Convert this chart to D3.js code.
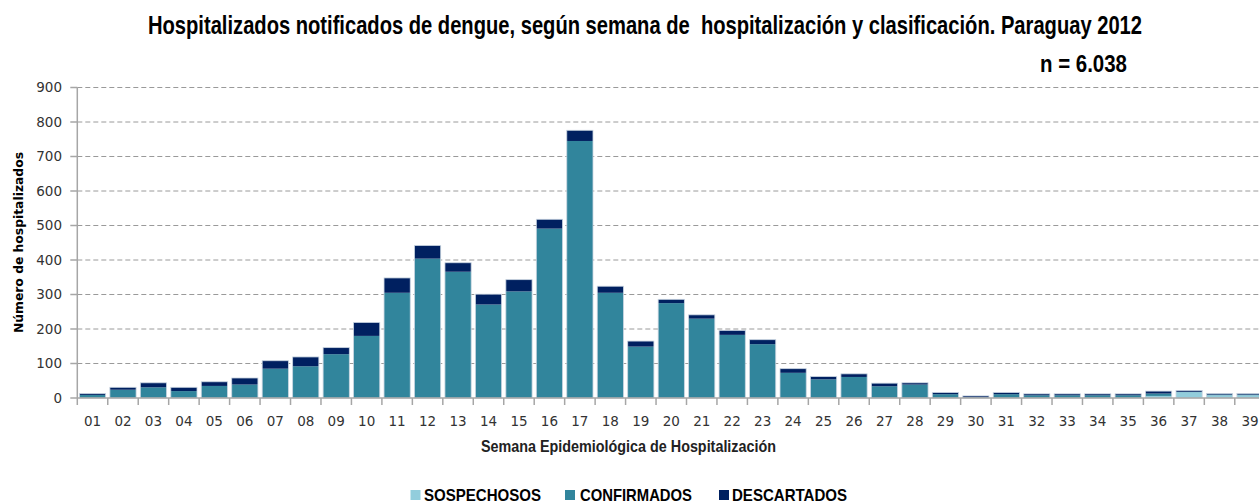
<!DOCTYPE html>
<html>
<head>
<meta charset="utf-8">
<script src="https://cdn.jsdelivr.net/npm/d3@7"></script>
<style>
  html, body { margin: 0; padding: 0; background: #fff; }
  svg { display: block; }
</style>
</head>
<body>
<svg id="chart" width="1259" height="504"></svg>
<script>
const weeks = ["01","02","03","04","05","06","07","08","09","10","11","12","13","14","15","16","17","18","19","20",
               "21","22","23","24","25","26","27","28","29","30","31","32","33","34","35","36","37","38","39"];
const sospechosos = [0,0,0,0,0,0,0,0,0,0,0,0,0,0,0,0,0,0,0,0,
                     0,0,0,0,0,0,0,0,0,0,0,0,0,0,0,6,17,8,8];
const confirmados = [9,24,31,20,35,39,85,92,127,180,305,404,366,271,309,491,745,305,149,275,
                     230,183,156,73,54,61,34,39,11,2,11,8,8,8,8,7,1,2,2];
const descartados = [4,7,13,11,12,19,23,27,19,39,43,38,26,30,34,27,31,19,16,11,
                     11,13,13,12,8,9,9,5,5,4,5,4,4,4,4,7,4,3,3];
const yTicks = [0,100,200,300,400,500,600,700,800,900];
const seriesNames = ["SOSPECHOSOS","CONFIRMADOS","DESCARTADOS"];
const seriesColors = ["#92cddc","#31859c","#002060"];

const titleText = "Hospitalizados notificados de dengue, según semana de  hospitalización y clasificación. Paraguay 2012";
const nText = "n = 6.038";
const xTitle = "Semana Epidemiológica de Hospitalización";
const yTitle = "Número de hospitalizados";

(function () {
const svg = d3.select("#chart");
const pLeft = 77.3, pBottom = 398, pTop = 87.5, step = 30.46;
const pRight = pLeft + weeks.length * step;

const x = d3.scaleBand().domain(weeks).range([pLeft, pRight]).paddingInner(0.14).paddingOuter(0.07);
const xb = d3.scaleLinear().domain([0, weeks.length]).range([pLeft, pRight]);
const y = d3.scaleLinear().domain([0, 900]).range([pBottom, pTop]);

const condensed = "'Liberation Sans Narrow','Arial Narrow','Liberation Sans',Arial,sans-serif";

// title
svg.append("text").attr("transform", "translate(148,34) scale(1,1.15)")
  .attr("textLength", 994).attr("lengthAdjust", "spacingAndGlyphs")
  .style("font-family", condensed).style("font-weight", "bold").style("font-size", "22px")
  .style("fill", "#000").style("white-space", "pre").text(titleText);
svg.append("text").attr("transform", "translate(1040,72) scale(1,1.1)")
  .attr("textLength", 87).attr("lengthAdjust", "spacingAndGlyphs")
  .style("font-family", condensed).style("font-weight", "bold").style("font-size", "22px")
  .style("fill", "#000").text(nText);

// gridlines
svg.append("g").selectAll("line").data(yTicks.filter(d => d > 0)).join("line")
  .attr("x1", pLeft).attr("x2", 1259)
  .attr("y1", d => y(d)).attr("y2", d => y(d))
  .attr("stroke", "#9a9a9a").attr("stroke-width", 1).attr("stroke-dasharray", "5,3");

// stacked data
const rows = weeks.map((w, i) => ({week: w, SOSPECHOSOS: sospechosos[i], CONFIRMADOS: confirmados[i], DESCARTADOS: descartados[i]}));
const stack = d3.stack().keys(seriesNames)(rows);

const g = svg.append("g");
stack.forEach((layer, li) => {
  g.append("g").selectAll("rect").data(layer.filter(d => d[1] > d[0])).join("rect")
    .attr("x", d => x(d.data.week))
    .attr("width", x.bandwidth())
    .attr("y", d => y(d[1]))
    .attr("height", d => y(d[0]) - y(d[1]))
    .attr("fill", seriesColors[li]);
});
// light outline around each bar
g.append("g").selectAll("rect").data(rows).join("rect")
  .attr("x", d => x(d.week))
  .attr("width", x.bandwidth())
  .attr("y", d => y(d.SOSPECHOSOS + d.CONFIRMADOS + d.DESCARTADOS))
  .attr("height", d => pBottom - y(d.SOSPECHOSOS + d.CONFIRMADOS + d.DESCARTADOS))
  .attr("fill", "none").attr("stroke", "#c9d5e1").attr("stroke-width", 0.8);

// y axis
svg.append("line").attr("x1", pLeft).attr("x2", pLeft).attr("y1", pTop).attr("y2", pBottom)
  .attr("stroke", "#a6a6a6").attr("stroke-width", 1.5);
svg.append("g").selectAll("line").data(yTicks).join("line")
  .attr("x1", pLeft - 7).attr("x2", pLeft).attr("y1", d => y(d)).attr("y2", d => y(d))
  .attr("stroke", "#a6a6a6").attr("stroke-width", 1.5);
svg.append("g").selectAll("text").data(yTicks).join("text")
  .attr("x", 62).attr("y", d => y(d)).attr("dy", "0.36em").attr("text-anchor", "end")
  .style("font-family", "'DejaVu Sans',Verdana,sans-serif").style("font-size", "13.5px").style("fill", "#333")
  .text(d => d);

// x axis
svg.append("line").attr("x1", pLeft).attr("x2", 1259).attr("y1", pBottom).attr("y2", pBottom)
  .attr("stroke", "#a6a6a6").attr("stroke-width", 1.5);
svg.append("g").selectAll("line").data(d3.range(weeks.length + 1)).join("line")
  .attr("x1", d => xb(d)).attr("x2", d => xb(d)).attr("y1", pBottom).attr("y2", pBottom + 7)
  .attr("stroke", "#a6a6a6").attr("stroke-width", 1.5);
svg.append("g").selectAll("text").data(weeks).join("text")
  .attr("x", d => x(d) + x.bandwidth() / 2).attr("y", 426).attr("text-anchor", "middle")
  .style("font-family", "'DejaVu Sans',Verdana,sans-serif").style("font-size", "13.5px").style("fill", "#333")
  .text(d => d);

// axis titles
svg.append("text").attr("x", 481).attr("y", 452)
  .attr("textLength", 295).attr("lengthAdjust", "spacingAndGlyphs")
  .style("font-family", condensed).style("font-weight", "bold").style("font-size", "17px")
  .style("fill", "#222").text(xTitle);
svg.append("text").attr("transform", "translate(23,242.5) rotate(-90)").attr("text-anchor", "middle")
  .attr("textLength", 181).attr("lengthAdjust", "spacingAndGlyphs")
  .style("font-family", "'DejaVu Sans',Verdana,sans-serif").style("font-weight", "bold").style("font-size", "12px")
  .style("fill", "#000").text(yTitle);

// legend
const legendPos = [{sq: 410.5, tx: 424, w: 117}, {sq: 565, tx: 580, w: 112}, {sq: 719, tx: 732, w: 115}];
const lg = svg.append("g");
seriesNames.forEach((name, i) => {
  const p = legendPos[i];
  lg.append("rect").attr("x", p.sq).attr("y", 490).attr("width", 10).attr("height", 10).attr("fill", seriesColors[i]);
  lg.append("text").attr("transform", `translate(${p.tx},500.5) scale(1,1.12)`)
    .attr("textLength", p.w).attr("lengthAdjust", "spacingAndGlyphs")
    .style("font-family", condensed).style("font-weight", "bold").style("font-size", "15.5px")
    .style("fill", "#000").text(name);
});
})();
</script>
</body>
</html>
